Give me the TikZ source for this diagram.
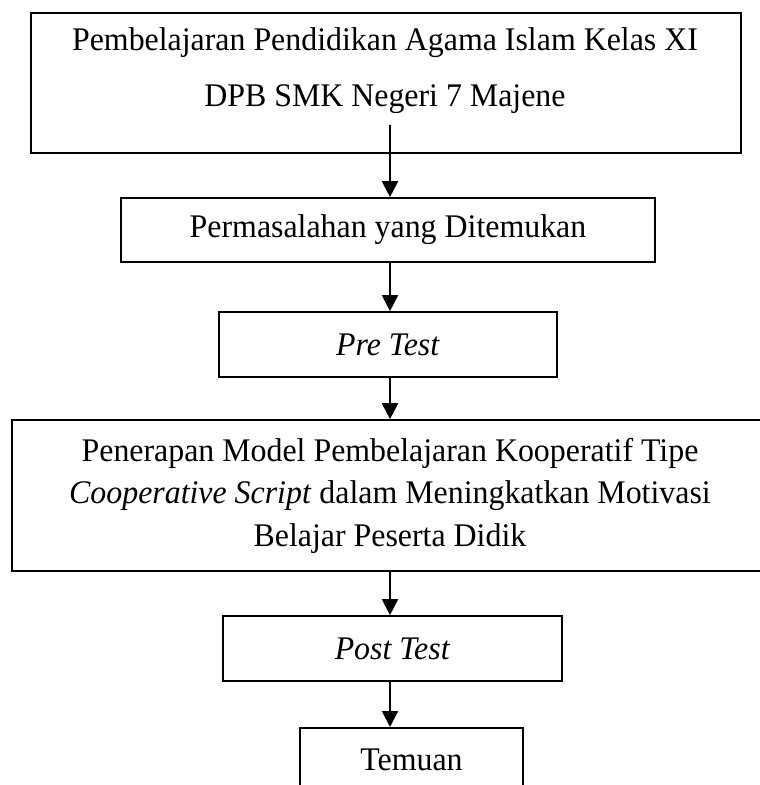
\documentclass[tikz,border=0pt]{standalone}
\usepackage{fontspec}
\setmainfont{Liberation Serif}[FakeStretch=0.966]
\usetikzlibrary{arrows.meta}
\tikzset{
  flowbox/.style={draw, line width=1.7pt, inner sep=0pt, align=center},
  flowarrow/.style={-{Triangle[length=16pt,width=16pt]}, line width=2.2pt},
}

\begin{document}
\begin{tikzpicture}[x=1pt,y=-1pt,font=\fontsize{33}{40}\selectfont]
\useasboundingbox (0,0) rectangle (760,785);
\clip (0,0) rectangle (760,785);
\coordinate (AX) at (390,0);
% ---
\node[flowbox, minimum width=710pt, minimum height=140pt] (PB) at (386,83) {};
\node[align=center, font=\fontsize{33}{56}\selectfont] (PBtext) at (385,71)
  {Pembelajaran Pendidikan Agama Islam Kelas XI\\DPB SMK Negeri 7 Majene};
\coordinate (PBout) at (390,125);
% ---
\node[flowbox, minimum width=534pt, minimum height=64pt] (PM) at (388,230)
  {Permasalahan yang Ditemukan};
% ---
\node[flowbox, minimum width=338pt, minimum height=65pt] (PRE) at (388,344.5)
  {\textit{Pre Test}};
% ---
\node[flowbox, minimum width=756pt, minimum height=151pt,
  font=\fontsize{33}{42.5}\selectfont] (PN) at (390,495.5)
  {Penerapan Model Pembelajaran Kooperatif Tipe\\
   \textit{Cooperative Script} dalam Meningkatkan Motivasi\\
   Belajar Peserta Didik};
% ---
\node[flowbox, minimum width=339pt, minimum height=65pt] (POST) at (392.5,648.5)
  {\textit{Post Test}};
% ---
\node[flowbox, anchor=north, minimum width=223pt, minimum height=64pt] (TM) at (411.5,727)
  {Temuan};
% ---
\draw[flowarrow] (PBout) -- (PM.north -| AX);
\draw[flowarrow] (PM.south -| AX) -- (PRE.north -| AX);
\draw[flowarrow] (PRE.south -| AX) -- (PN.north -| AX);
\draw[flowarrow] (PN.south -| AX) -- (POST.north -| AX);
\draw[flowarrow] (POST.south -| AX) -- (TM.north -| AX);
\end{tikzpicture}
\end{document}
